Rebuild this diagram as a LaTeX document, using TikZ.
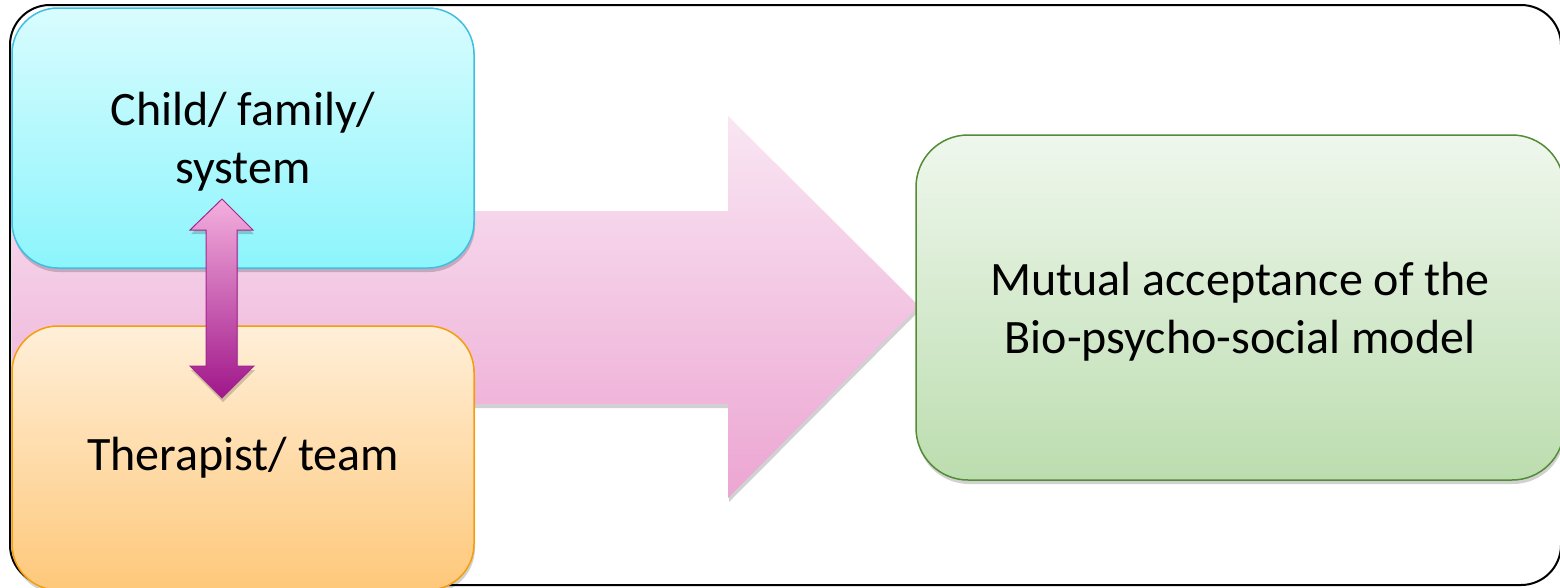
\documentclass[tikz,border=0pt]{standalone}
\usepackage{fontspec}
\setmainfont{Carlito}
\usetikzlibrary{shadows,positioning}

\definecolor{childTop}{HTML}{D9FCFE}
\definecolor{childBot}{HTML}{8CF5FC}
\definecolor{childLine}{HTML}{3EBFE2}
\definecolor{theraTop}{HTML}{FFEFD9}
\definecolor{theraBot}{HTML}{FEC87A}
\definecolor{theraLine}{HTML}{F59D0A}
\definecolor{goalTop}{HTML}{EFF7ED}
\definecolor{goalBot}{HTML}{BCDDAF}
\definecolor{goalLine}{HTML}{548C35}
\definecolor{flowTop}{HTML}{F9E6F3}
\definecolor{flowBot}{HTML}{ECA5D2}
\definecolor{linkTop}{HTML}{F4B0DE}
\definecolor{linkBot}{HTML}{A0168A}
\definecolor{linkLine}{HTML}{A52590}

\newcommand{\twolines}[2]{\raisebox{-5pt}[\height][\depth]{\begin{tabular}{@{}c@{}}#1\\#2\end{tabular}}}

\tikzset{
    softshadow/.style={drop shadow={shadow xshift=1pt, shadow yshift=-4pt, opacity=.18, fill=black}},
    box/.style={rounded corners=46pt, line width=1.5pt, align=center,
        font=\fontsize{48}{58}\selectfont, inner sep=0pt, softshadow}
}

\begin{document}
\begin{tikzpicture}[x=1pt, y=-1pt]
\useasboundingbox (0,0) rectangle (1560,587);

% Outer frame
\draw[line width=2pt, rounded corners=40pt, fill=white] (10,5) rectangle (1561,585);

% Big flow arrow behind the boxes
\path[softshadow, top color=flowTop, bottom color=flowBot]
    (12,211) -- (728,211) -- (728,116) -- (919,306) -- (728,498) -- (728,404) -- (12,404) -- cycle;

% Left boxes
\node[box, draw=childLine, top color=childTop, bottom color=childBot,
      minimum width=462pt, minimum height=260pt] (child) at (243,138)
      {\twolines{Child/ family/}{system}};
\node[box, draw=theraLine, top color=theraTop, bottom color=theraBot,
      minimum width=462pt, minimum height=264pt] (therapist) at (243,458) {Therapist/ team};

% Two-way link between the left boxes
\draw[softshadow, draw=linkLine, line width=1pt, top color=linkTop, bottom color=linkBot]
    (222,199) -- (253,230) -- (237,230) -- (237,366) -- (254,366) -- (222,398)
    -- (190,366) -- (206,366) -- (206,230) -- (190,230) -- cycle;

% Outcome box
\node[box, draw=goalLine, top color=goalTop, bottom color=goalBot, rounded corners=52pt,
      minimum width=648pt, minimum height=345pt] (acceptance) at (1240,307.5)
      {\twolines{Mutual acceptance of the}{Bio-psycho-social model}};

\end{tikzpicture}
\end{document}
